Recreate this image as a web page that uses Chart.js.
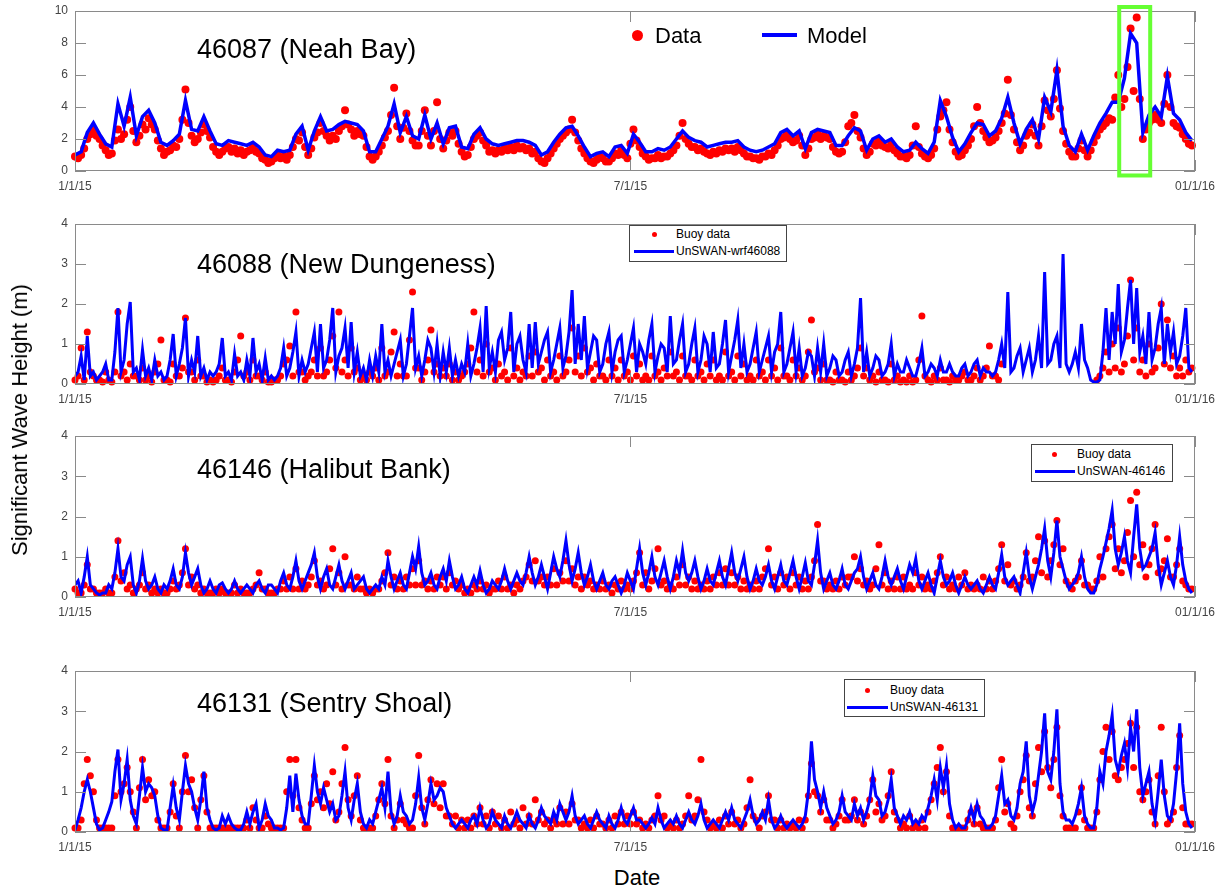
<!DOCTYPE html>
<html>
<head>
<meta charset="utf-8">
<script src="https://cdn.jsdelivr.net/npm/chart.js@4.4.1/dist/chart.umd.min.js"></script>
<style>
  html, body { margin: 0; padding: 0; background: #fff; }
  #page { position: relative; width: 1227px; height: 894px; overflow: hidden; font-family: "Liberation Sans", Arial, sans-serif; }
  .panel { position: absolute; left: 0; }
  .title { position: absolute; left: 197px; font-size: 27px; line-height: 27px; color: #000; white-space: nowrap; }
  .lbl { position: absolute; white-space: nowrap; color: #000; }
  .dot { position: absolute; border-radius: 50%; background: #ff0000; }
  .seg { position: absolute; background: #0000ff; }
  .box { position: absolute; border: 1px solid #444; background: #fff; }
</style>
</head>
<body>
<div id="page">
  <div class="panel" style="top:-19px"><canvas id="c1" width="1227" height="220"></canvas></div>
  <div class="panel" style="top:194px"><canvas id="c2" width="1227" height="220"></canvas></div>
  <div class="panel" style="top:406px"><canvas id="c3" width="1227" height="221"></canvas></div>
  <div class="panel" style="top:641px"><canvas id="c4" width="1227" height="221"></canvas></div>

  <!-- titres des panneaux -->
  <div class="title" style="top:36px">46087 (Neah Bay)</div>
  <div class="title" style="top:251px">46088 (New Dungeness)</div>
  <div class="title" style="top:456px">46146 (Halibut Bank)</div>
  <div class="title" style="top:690px">46131 (Sentry Shoal)</div>

  <!-- légende panneau 1 -->
  <div class="dot" style="left:632px;top:30px;width:11px;height:11px"></div>
  <div class="lbl" style="left:655px;top:25px;font-size:22px;line-height:22px">Data</div>
  <div class="seg" style="left:762px;top:33px;width:35px;height:4px"></div>
  <div class="lbl" style="left:807px;top:25px;font-size:22px;line-height:22px">Model</div>

  <!-- légende panneau 2 -->
  <div class="box" style="left:629px;top:225px;width:156px;height:35px"></div>
  <div class="dot" style="left:652px;top:232px;width:5px;height:5px"></div>
  <div class="lbl" style="left:676px;top:228px;font-size:12px;line-height:12px">Buoy data</div>
  <div class="seg" style="left:634px;top:250px;width:40px;height:3px"></div>
  <div class="lbl" style="left:676px;top:245px;font-size:12px;line-height:12px">UnSWAN-wrf46088</div>

  <!-- légende panneau 3 -->
  <div class="box" style="left:1031px;top:444px;width:140px;height:36px"></div>
  <div class="dot" style="left:1052px;top:452px;width:5px;height:5px"></div>
  <div class="lbl" style="left:1077px;top:448px;font-size:12px;line-height:12px">Buoy data</div>
  <div class="seg" style="left:1035px;top:470px;width:40px;height:3px"></div>
  <div class="lbl" style="left:1077px;top:465px;font-size:12px;line-height:12px">UnSWAN-46146</div>

  <!-- légende panneau 4 -->
  <div class="box" style="left:844px;top:679px;width:139px;height:36px"></div>
  <div class="dot" style="left:865px;top:688px;width:5px;height:5px"></div>
  <div class="lbl" style="left:890px;top:684px;font-size:12px;line-height:12px">Buoy data</div>
  <div class="seg" style="left:847px;top:706px;width:41px;height:3px"></div>
  <div class="lbl" style="left:890px;top:701px;font-size:12px;line-height:12px">UnSWAN-46131</div>

  <!-- titres des axes -->
  <div class="lbl" style="left:20px;top:420px;font-size:22px;transform:translate(-50%,-50%) rotate(-90deg)">Significant Wave Height (m)</div>
  <div class="lbl" style="left:637px;top:878px;font-size:22px;transform:translate(-50%,-50%)">Date</div>
</div>

<script>
// =========================================================================
// DONNÉES (jour 0 = 1/1/15 ; valeurs journalières, sauf neahModel tous les 2 jours)
// =========================================================================

const DAILY = 1;
const EVERY_2_DAYS = 2;

// axe des dates
const xTickDays = [0, 181, 365];
const xTickLabels = ['1/1/15', '7/1/15', '01/1/16'];

// 46087 (Neah Bay) — modèle, un point tous les 2 jours
const neahModel = [
  1.0, 1.2, 2.4, 3.0, 2.3, 1.7, 1.5, 4.2, 2.8, 4.6,
  2.2, 3.4, 3.8, 3.0, 1.8, 1.6, 1.9, 2.3, 4.4, 2.6,
  2.5, 3.4, 2.5, 1.7, 1.6, 1.9, 1.8, 1.7, 1.6, 1.8,
  1.5, 1.0, 0.9, 1.3, 1.2, 1.3, 2.3, 2.8, 1.3, 2.5,
  3.4, 2.5, 2.6, 2.9, 3.1, 3.0, 2.9, 2.5, 1.2, 1.2,
  2.0, 2.8, 4.2, 2.4, 3.4, 2.2, 2.0, 3.5, 2.0, 3.0,
  1.7, 2.7, 2.8, 1.5, 1.4, 2.3, 2.7, 2.0, 1.7, 1.6,
  1.7, 1.8, 1.9, 1.9, 1.8, 1.6, 1.0, 1.2, 1.8, 2.3,
  2.7, 2.8, 2.2, 1.5, 0.9, 1.1, 1.2, 0.9, 1.5, 1.6,
  1.1, 2.3, 1.8, 1.2, 1.2, 1.4, 1.3, 1.5, 2.0, 2.5,
  2.1, 1.9, 1.8, 1.5, 1.6, 1.7, 1.8, 1.8, 1.9, 1.5,
  1.3, 1.2, 1.3, 1.5, 1.7, 2.4, 2.6, 2.2, 2.5, 1.4,
  2.4, 2.6, 2.5, 2.4, 1.6, 1.6, 2.2, 2.7, 2.5, 1.3,
  2.0, 2.2, 1.8, 2.0, 1.5, 1.2, 1.3, 1.8, 1.4, 1.1,
  1.8, 4.4, 3.4, 2.1, 1.2, 1.7, 2.4, 3.0, 2.9, 2.2,
  2.5, 3.3, 4.6, 3.0, 1.7, 2.6, 3.2, 2.0, 4.6, 3.7,
  6.3, 2.8, 1.6, 1.2, 2.3, 1.3, 2.2, 3.0, 3.6, 4.3,
  4.3, 5.8, 8.6, 8.0, 2.4, 3.5, 4.0, 3.4, 5.9, 3.6,
  3.2, 2.4, 1.9
];
// 46087 — bouée, journalier
const neahData = [
  0.9, 0.8, 1.0, 1.4, 2.0, 2.3, 2.6, 2.2, 2.0, 1.6, 1.3, 1.0, 1.1, 1.9, 2.6, 2.0, 2.3, 3.2, 4.0, 2.5,
  1.8, 2.2, 2.9, 2.6, 3.3, 2.9, 2.6, 1.9, 1.4, 1.0, 1.2, 1.3, 1.6, 1.5, 2.0, 3.2, 5.1, 3.0, 2.2, 1.8,
  2.0, 2.4, 2.9, 2.5, 2.1, 1.5, 1.2, 1.0, 1.2, 1.4, 1.5, 1.2, 1.4, 1.1, 1.3, 1.0, 1.2, 1.3, 1.5, 1.2,
  1.1, 0.8, 0.7, 0.5, 0.6, 0.8, 1.0, 0.8, 0.9, 0.7, 1.0, 1.5, 2.0, 1.9, 2.4, 1.5, 1.0, 1.4, 2.1, 2.4,
  3.0, 2.5, 2.2, 1.9, 2.2, 2.0, 2.5, 2.8, 3.8, 2.9, 2.6, 2.2, 2.5, 2.3, 2.2, 1.5, 0.9, 0.7, 0.9, 1.2,
  1.6, 2.1, 2.5, 3.5, 5.2, 2.8, 2.0, 2.7, 3.6, 2.5, 1.9, 1.6, 1.6, 2.5, 3.8, 2.2, 1.6, 2.5, 4.3, 2.0,
  1.4, 1.9, 2.4, 2.2, 2.5, 1.7, 1.2, 0.9, 1.0, 1.5, 2.0, 2.2, 2.4, 1.9, 1.6, 1.2, 1.3, 1.1, 1.3, 1.2,
  1.4, 1.3, 1.5, 1.3, 1.6, 1.4, 1.5, 1.3, 1.4, 1.1, 1.2, 0.8, 0.6, 0.5, 0.8, 1.1, 1.4, 1.7, 2.0, 2.2,
  2.4, 2.6, 3.2, 2.4, 1.9, 1.4, 1.1, 0.8, 0.6, 0.5, 0.7, 0.9, 0.8, 0.6, 0.6, 0.8, 1.1, 1.0, 1.3, 1.0,
  0.8, 1.7, 2.6, 1.9, 1.5, 1.1, 0.9, 0.7, 0.8, 0.8, 1.0, 0.8, 0.9, 0.9, 1.1, 1.3, 1.6, 2.2, 3.0, 2.0,
  1.7, 1.5, 1.5, 1.3, 1.4, 1.2, 1.1, 1.0, 1.2, 1.1, 1.3, 1.2, 1.4, 1.3, 1.4, 1.2, 1.5, 1.3, 1.1, 0.9,
  0.9, 0.8, 0.8, 0.7, 0.9, 0.9, 1.1, 1.0, 1.3, 1.6, 2.0, 2.1, 2.3, 2.0, 1.8, 1.9, 2.2, 1.6, 1.0, 1.4,
  2.0, 2.1, 2.3, 2.0, 2.2, 2.1, 2.0, 1.5, 1.2, 1.1, 1.2, 1.8, 2.8, 3.0, 3.5, 2.5, 2.1, 1.4, 1.0, 1.2,
  1.7, 1.6, 1.9, 1.6, 1.5, 1.4, 1.7, 1.3, 1.1, 0.9, 0.9, 0.8, 1.0, 1.6, 2.8, 1.5, 1.1, 0.9, 0.8, 1.0,
  1.4, 2.6, 3.4, 3.8, 4.3, 2.6, 1.8, 1.2, 0.9, 1.0, 1.3, 1.6, 2.0, 2.8, 4.0, 3.0, 2.5, 2.1, 1.8, 1.9,
  2.1, 2.5, 3.0, 3.6, 5.7, 3.5, 2.6, 1.8, 1.3, 1.6, 2.2, 2.4, 2.9, 2.2, 1.6, 2.8, 4.4, 3.8, 3.4, 4.5,
  6.3, 3.9, 2.5, 1.7, 1.2, 0.9, 0.9, 1.4, 1.9, 1.3, 0.9, 1.3, 1.8, 2.2, 2.6, 2.8, 3.0, 3.3, 3.2, 4.6,
  6.0, 4.0, 4.5, 6.5, 8.9, 5.0, 9.6, 4.5, 2.0, 2.6, 3.0, 3.2, 3.5, 3.2, 3.0, 4.2, 6.0, 4.0, 3.0, 2.8,
  2.7, 2.3, 2.0, 1.7, 1.6
];

// 46088 (New Dungeness)
const dungModel = [
  0.2, 0.3, 0.7, 0.1, 1.2, 0.2, 0.3, 0.1, 0.2, 0.3, 0.5, 0.1, 0.1, 0.8, 1.9, 0.3, 0.6, 1.5, 2.05, 0.3,
  0.4, 0.1, 0.85, 0.2, 0.4, 0.1, 0.6, 0.2, 0.3, 0.1, 0.2, 0.6, 1.25, 0.2, 0.5, 0.9, 1.65, 0.2, 0.6, 0.3,
  1.2, 0.2, 0.4, 0.1, 0.3, 0.2, 0.3, 0.5, 1.15, 0.2, 0.3, 0.1, 0.75, 0.2, 0.3, 0.1, 0.6, 0.2, 1.15, 0.3,
  0.5, 0.1, 0.65, 0.1, 0.2, 0.1, 0.2, 0.4, 0.9, 0.2, 0.4, 0.8, 1.3, 0.2, 0.6, 0.3, 0.5, 0.9, 1.3, 0.3,
  1.5, 0.4, 0.6, 1.1, 1.9, 0.3, 0.7, 0.9, 1.4, 0.4, 1.55, 0.3, 0.8, 0.2, 0.4, 0.1, 0.6, 0.2, 0.7, 0.3,
  1.5, 0.3, 0.6, 0.2, 0.5, 0.8, 1.1, 0.2, 0.5, 1.2, 1.9, 0.4, 0.7, 0.2, 0.6, 1.1, 0.9, 0.3, 1.0, 0.2,
  0.8, 0.3, 0.9, 0.2, 0.6, 0.2, 0.5, 0.3, 1.0, 0.2, 0.5, 0.9, 1.4, 0.3, 1.95, 0.4, 0.8, 0.3, 1.1, 1.3,
  0.6, 0.9, 1.8, 0.3, 1.0, 1.2, 0.6, 0.3, 1.5, 0.4, 1.55, 0.5, 0.8, 1.1, 1.3, 0.3, 0.6, 1.0, 1.4, 0.4,
  0.7, 1.3, 2.35, 0.5, 1.5, 0.6, 1.7, 0.4, 0.8, 1.2, 1.1, 0.3, 0.5, 1.0, 1.3, 0.3, 0.8, 1.1, 1.2, 0.3,
  0.6, 1.0, 1.4, 0.3, 1.0, 0.8, 0.5, 1.1, 1.5, 0.3, 0.7, 1.0, 0.9, 0.3, 1.7, 0.5, 0.6, 1.1, 1.5, 0.3,
  0.5, 1.0, 1.4, 0.3, 0.6, 1.2, 1.0, 0.3, 1.3, 0.4, 0.5, 1.0, 1.6, 0.3, 0.7, 1.1, 1.6, 0.4, 1.0, 0.3,
  0.5, 0.9, 1.3, 0.3, 0.6, 0.9, 1.2, 0.3, 0.8, 1.0, 1.8, 0.3, 0.5, 0.9, 1.3, 0.3, 0.9, 0.2, 0.4, 0.8,
  0.7, 0.2, 0.9, 0.3, 1.0, 0.2, 0.4, 0.7, 0.6, 0.2, 0.3, 0.6, 0.8, 0.2, 0.5, 0.9, 2.15, 0.3, 0.8, 0.2,
  0.4, 0.7, 0.6, 0.2, 0.3, 0.5, 1.0, 0.2, 0.5, 0.3, 0.3, 0.6, 0.4, 0.2, 0.2, 0.5, 0.9, 0.2, 0.3, 0.5,
  0.4, 0.2, 0.6, 0.3, 0.3, 0.5, 0.3, 0.2, 0.2, 0.4, 0.5, 0.2, 0.3, 0.5, 0.6, 0.2, 0.4, 0.3, 0.3, 0.2,
  0.3, 0.6, 1.0, 0.4, 2.3, 0.3, 0.4, 0.7, 0.9, 0.3, 0.6, 0.9, 0.3, 0.6, 1.2, 0.4, 2.8, 0.5, 0.6, 1.0,
  1.2, 0.4, 3.25, 0.5, 0.3, 0.5, 0.8, 0.4, 1.5, 0.6, 0.4, 0.1, 0.05, 0.05, 0.1, 0.8, 1.9, 0.6, 1.8, 1.0,
  2.5, 0.8, 1.1, 1.9, 2.6, 1.0, 2.4, 0.8, 1.2, 0.5, 1.8, 0.6, 0.9, 1.5, 1.9, 0.5, 1.5, 0.8, 1.3, 0.5,
  0.7, 1.2, 1.9, 0.4, 0.3
];
const dungData = [
  0.1, 0.2, 0.9, 0.1, 1.3, 0.3, 0.2, 0.1, 0.1, 0.05, 0.3, 0.1, 0.05, 0.3, 1.8, 0.2, 0.3, 0.1, 0.5, 0.2,
  0.2, 0.1, 0.4, 0.1, 0.2, 0.05, 0.3, 0.5, 1.1, 0.1, 0.1, 0.05, 0.5, 0.2, 0.2, 0.4, 1.65, 0.3, 0.3, 0.1,
  0.6, 0.2, 0.2, 0.05, 0.1, 0.05, 0.1, 0.2, 0.4, 0.1, 0.1, 0.05, 0.3, 0.6, 1.2, 0.2, 0.3, 0.1, 0.6, 0.2,
  0.2, 0.1, 0.3, 0.05, 0.05, 0.1, 0.1, 0.2, 0.5, 0.6, 0.95, 0.2, 1.8, 0.3, 0.3, 0.1, 0.2, 0.3, 0.6, 0.2,
  0.9, 0.2, 0.3, 0.6, 1.2, 0.4, 1.8, 0.3, 0.6, 0.2, 0.9, 0.3, 0.4, 0.1, 0.2, 0.1, 0.3, 0.2, 0.4, 0.1,
  0.9, 0.2, 0.3, 0.8, 1.3, 0.2, 0.5, 0.2, 0.2, 1.1, 2.3, 0.4, 0.4, 0.1, 0.3, 0.6, 1.35, 0.3, 0.5, 0.2,
  0.4, 0.2, 0.5, 0.1, 0.3, 0.1, 0.2, 0.3, 0.5, 0.9, 1.8, 0.3, 0.6, 0.2, 1.0, 0.3, 0.4, 0.1, 0.5, 0.2,
  0.3, 0.1, 0.9, 0.2, 0.4, 0.1, 0.3, 0.2, 0.7, 0.2, 0.8, 0.3, 0.4, 0.1, 0.6, 0.2, 0.3, 0.1, 0.7, 0.2,
  0.3, 0.6, 1.4, 0.3, 0.7, 0.2, 0.9, 0.3, 0.4, 0.1, 0.5, 0.2, 0.2, 0.1, 0.6, 0.2, 0.4, 0.1, 0.6, 0.2,
  0.3, 0.1, 0.7, 0.2, 0.5, 0.1, 0.2, 0.1, 0.7, 0.2, 0.3, 0.1, 0.4, 0.2, 0.8, 0.2, 0.3, 0.1, 0.7, 0.2,
  0.2, 0.1, 0.6, 0.2, 0.3, 0.1, 0.5, 0.2, 0.6, 0.1, 0.2, 0.1, 0.8, 0.2, 0.3, 0.1, 0.7, 0.2, 0.5, 0.1,
  0.2, 0.1, 0.6, 0.2, 0.3, 0.1, 0.6, 0.2, 0.4, 0.1, 0.9, 0.2, 0.2, 0.1, 0.6, 0.2, 0.4, 0.1, 0.2, 0.8,
  1.6, 0.3, 0.4, 0.1, 0.5, 0.1, 0.1, 0.05, 0.3, 0.1, 0.1, 0.05, 0.3, 0.1, 0.2, 0.4, 0.9, 0.2, 0.4, 0.1,
  0.2, 0.05, 0.3, 0.1, 0.1, 0.05, 0.5, 0.1, 0.2, 0.05, 0.1, 0.05, 0.2, 0.05, 0.1, 0.6, 1.7, 0.2, 0.1, 0.05,
  0.2, 0.1, 0.4, 0.1, 0.1, 0.05, 0.2, 0.1, 0.1, 0.2, 0.3, 0.1, 0.1, 0.2, 0.4, 0.1, 0.2, 0.4, 0.95, 0.2,
  0.2, 0.1, 0.5, null, null, null, null, null, null, null, null, null, null, null, null, null, null, null, null, null,
  null, null, null, null, null, null, null, null, null, null, null, null, null, 0.1, 0.2, 0.4, 0.8, 0.3, 1.0, 0.4,
  1.4, 0.3, 0.5, 1.2, 2.6, 0.6, 1.4, 0.3, 0.6, 0.2, 1.0, 0.3, 0.4, 0.9, 2.0, 0.5, 1.6, 0.4, 0.7, 0.2,
  0.4, 0.2, 0.6, 0.3, 0.4
];

// 46146 (Halibut Bank)
const halibutModel = [
  0.3, 0.4, 0.1, 0.5, 1.0, 0.3, 0.2, 0.1, 0.05, 0.1, 0.1, 0.3, 0.2, 0.6, 1.2, 0.5, 0.4, 0.8, 1.0, 0.3,
  0.1, 0.4, 0.95, 0.4, 0.2, 0.3, 0.5, 0.2, 0.1, 0.3, 0.2, 0.4, 0.7, 0.3, 0.2, 0.5, 1.1, 0.6, 0.3, 0.5,
  0.7, 0.3, 0.1, 0.2, 0.4, 0.2, 0.1, 0.3, 0.35, 0.2, 0.1, 0.2, 0.4, 0.2, 0.1, 0.2, 0.3, 0.2, 0.1, 0.3,
  0.4, 0.2, 0.1, 0.3, 0.3, 0.2, 0.1, 0.4, 0.6, 0.3, 0.2, 0.5, 0.9, 0.4, 0.2, 0.4, 0.6, 0.8, 1.1, 0.5,
  0.2, 0.5, 0.7, 0.3, 0.2, 0.5, 0.8, 0.4, 0.2, 0.4, 0.6, 0.2, 0.3, 0.4, 0.5, 0.2, 0.1, 0.2, 0.3, 0.2,
  0.5, 0.3, 0.9, 0.5, 0.2, 0.4, 0.6, 0.3, 0.2, 0.6, 1.0, 0.7, 1.25, 0.6, 0.3, 0.4, 0.6, 0.3, 0.2, 0.5,
  0.7, 0.4, 0.9, 0.5, 0.2, 0.3, 0.5, 0.2, 0.1, 0.3, 0.5, 0.3, 0.65, 0.3, 0.1, 0.2, 0.4, 0.3, 0.2, 0.4,
  0.7, 0.4, 0.2, 0.4, 0.6, 0.4, 0.3, 0.6, 1.0, 0.6, 0.3, 0.5, 0.8, 0.5, 0.2, 0.6, 1.0, 0.7, 0.5, 0.9,
  1.4, 0.8, 0.4, 0.7, 1.1, 0.6, 0.3, 0.5, 0.8, 0.4, 0.2, 0.4, 0.6, 0.3, 0.2, 0.4, 0.5, 0.3, 0.1, 0.3,
  0.6, 0.4, 0.2, 0.7, 1.2, 0.6, 0.3, 0.6, 1.0, 0.5, 0.3, 0.6, 0.9, 0.5, 0.2, 0.5, 0.9, 0.6, 1.15, 0.6,
  0.4, 0.6, 0.9, 0.5, 0.2, 0.4, 0.7, 0.4, 0.3, 0.6, 0.9, 0.5, 0.3, 0.7, 1.1, 0.6, 0.4, 0.7, 1.0, 0.5,
  0.2, 0.4, 0.7, 0.4, 0.3, 0.5, 0.8, 0.4, 0.2, 0.5, 0.8, 0.4, 0.3, 0.6, 0.9, 0.5, 0.2, 0.5, 0.85, 0.4,
  0.3, 0.8, 1.4, 0.6, 0.2, 0.4, 0.6, 0.3, 0.2, 0.4, 0.7, 0.3, 0.2, 0.4, 0.6, 0.7, 1.0, 0.5, 0.2, 0.4,
  0.6, 0.3, 0.2, 0.5, 0.9, 0.5, 0.3, 0.5, 0.7, 0.4, 0.2, 0.5, 0.8, 0.6, 0.95, 0.4, 0.2, 0.4, 0.6, 0.3,
  0.1, 0.5, 0.9, 0.5, 0.3, 0.4, 0.6, 0.3, 0.1, 0.3, 0.5, 0.3, 0.2, 0.3, 0.4, 0.2, 0.1, 0.3, 0.5, 0.3,
  0.2, 0.6, 1.05, 0.5, 0.3, 0.4, 0.5, 0.3, 0.1, 0.6, 1.1, 0.5, 0.2, 0.5, 0.8, 1.2, 1.7, 0.9, 0.5, 1.1,
  1.9, 1.0, 0.7, 0.4, 0.2, 0.3, 0.4, 0.6, 1.0, 0.5, 0.2, 0.1, 0.1, 0.3, 0.7, 1.0, 1.35, 1.7, 2.15, 1.2,
  0.8, 1.1, 1.5, 0.9, 0.6, 1.5, 2.3, 1.2, 0.7, 0.8, 1.0, 1.2, 1.6, 0.8, 0.3, 0.6, 0.9, 0.5, 0.3, 0.8,
  1.5, 0.8, 0.4, 0.2, 0.1
];
const halibutData = [
  0.2, 0.1, 0.1, 0.3, 0.8, 0.2, 0.2, 0.1, 0.1, 0.1, 0.2, 0.1, 0.1, 0.5, 1.4, 0.4, 0.6, 0.2, 0.3, 0.1,
  0.2, 0.3, 0.6, 0.2, 0.3, 0.1, 0.2, 0.1, 0.2, 0.1, 0.1, 0.2, 0.4, 0.2, 0.3, 0.6, 1.2, 0.3, 0.5, 0.2,
  0.3, 0.1, 0.2, 0.1, 0.1, 0.1, 0.2, 0.1, 0.2, 0.1, 0.1, 0.1, 0.3, 0.1, 0.2, 0.1, 0.1, 0.1, 0.2, 0.3,
  0.6, 0.2, 0.2, 0.1, 0.1, 0.1, 0.2, 0.2, 0.4, 0.2, 0.5, 0.2, 0.7, 0.2, 0.4, 0.2, 0.3, 0.5, 0.9, 0.3,
  0.4, 0.2, 0.3, 0.7, 1.2, 0.3, 0.6, 0.2, 1.0, 0.3, 0.3, 0.2, 0.5, 0.2, 0.2, 0.1, 0.2, 0.1, 0.2, 0.2,
  0.4, 0.6, 1.1, 0.3, 0.5, 0.2, 0.4, 0.2, 0.5, 0.3, 0.7, 0.3, 0.9, 0.3, 0.4, 0.2, 0.4, 0.2, 0.5, 0.3,
  0.5, 0.2, 0.6, 0.3, 0.4, 0.2, 0.3, 0.1, 0.2, 0.1, 0.3, 0.2, 0.4, 0.2, 0.3, 0.1, 0.2, 0.2, 0.4, 0.2,
  0.5, 0.2, 0.3, 0.1, 0.3, 0.2, 0.4, 0.5, 0.8, 0.4, 0.9, 0.4, 0.5, 0.3, 0.5, 0.3, 0.7, 0.3, 0.6, 0.4,
  0.9, 0.4, 0.7, 0.3, 0.5, 0.2, 0.5, 0.3, 0.4, 0.2, 0.3, 0.2, 0.4, 0.2, 0.3, 0.1, 0.3, 0.2, 0.4, 0.2,
  0.3, 0.2, 0.4, 0.6, 1.1, 0.3, 0.6, 0.2, 0.4, 0.7, 1.2, 0.3, 0.4, 0.2, 0.3, 0.2, 0.5, 0.3, 0.8, 0.3,
  0.5, 0.2, 0.4, 0.2, 0.3, 0.2, 0.4, 0.2, 0.5, 0.3, 0.6, 0.3, 0.7, 0.3, 0.6, 0.3, 0.5, 0.2, 0.4, 0.2,
  0.3, 0.2, 0.4, 0.2, 0.5, 0.7, 1.2, 0.3, 0.5, 0.2, 0.6, 0.3, 0.5, 0.2, 0.6, 0.3, 0.5, 0.2, 0.4, 0.2,
  0.5, 0.9, 1.8, 0.4, 0.4, 0.2, 0.3, 0.2, 0.4, 0.2, 0.5, 0.3, 0.5, 0.5, 1.0, 0.4, 0.7, 0.3, 0.4, 0.2,
  0.3, 0.7, 1.3, 0.3, 0.6, 0.2, 0.4, 0.2, 0.5, 0.2, 0.5, 0.2, 0.3, 0.2, 0.6, 0.3, 0.5, 0.2, 0.3, 0.2,
  0.4, 0.6, 1.0, 0.3, 0.5, 0.2, 0.3, 0.2, 0.5, 0.3, 0.6, 0.2, 0.3, 0.2, 0.3, 0.2, 0.5, 0.2, 0.4, 0.2,
  0.4, 0.7, 1.3, 0.4, 0.8, 0.3, 0.4, 0.2, 0.3, 0.5, 1.1, 0.4, 0.5, 0.9, 1.5, 0.6, 1.4, 0.5, 0.9, 1.3,
  1.9, 0.8, 1.2, 0.4, 0.3, 0.2, 0.4, 0.5, 0.9, 0.3, 0.3, 0.2, 0.2, 0.4, 1.0, 0.5, 1.2, 1.5, 1.8, 0.7,
  1.2, 0.6, 0.9, 1.6, 2.4, 1.0, 2.6, 0.8, 1.3, 0.5, 0.8, 1.2, 1.8, 0.6, 0.7, 0.9, 1.45, 0.5, 0.5, 0.8,
  1.2, 0.4, 0.3, 0.2, 0.2
];

// 46131 (Sentry Shoal)
const sentryModel = [
  0.05, 0.3, 0.6, 1.0, 1.3, 1.0, 0.6, 0.2, 0.05, 0.1, 0.3, 0.5, 0.75, 1.5, 2.05, 0.8, 1.2, 1.8, 0.8, 0.4,
  0.2, 0.9, 1.6, 1.0, 1.2, 1.1, 0.9, 0.4, 0.1, 0.05, 0.05, 0.6, 1.15, 0.6, 0.3, 1.0, 1.65, 1.2, 1.0, 0.6,
  0.3, 0.8, 1.5, 0.6, 0.3, 0.1, 0.05, 0.1, 0.4, 0.2, 0.4, 0.2, 0.1, 0.05, 0.05, 0.2, 0.5, 0.2, 0.5, 0.7,
  0.1, 0.3, 0.7, 0.4, 0.3, 0.1, 0.1, 0.05, 0.1, 0.6, 1.4, 0.5, 1.45, 0.8, 0.4, 0.2, 0.2, 0.9, 1.65, 1.0,
  0.7, 1.1, 0.8, 0.5, 0.7, 0.3, 0.4, 0.9, 1.5, 0.6, 0.3, 0.8, 1.2, 0.5, 0.2, 0.1, 0.3, 0.2, 0.5, 0.8,
  1.1, 0.6, 1.5, 0.5, 0.2, 0.4, 0.9, 0.5, 0.4, 0.2, 0.3, 0.7, 1.35, 0.6, 0.3, 0.7, 1.2, 0.8, 0.9, 1.1,
  1.0, 0.6, 0.4, 0.2, 0.1, 0.2, 0.3, 0.2, 0.1, 0.3, 0.4, 0.2, 0.6, 0.3, 0.1, 0.2, 0.5, 0.3, 0.2, 0.1,
  0.4, 0.2, 0.1, 0.3, 0.5, 0.3, 0.2, 0.1, 0.4, 0.2, 0.1, 0.3, 0.6, 0.4, 0.3, 0.2, 0.5, 0.3, 0.7, 0.5,
  0.3, 0.5, 0.9, 0.4, 0.2, 0.3, 0.4, 0.2, 0.1, 0.3, 0.5, 0.3, 0.2, 0.1, 0.4, 0.2, 0.1, 0.3, 0.6, 0.3,
  0.2, 0.4, 0.6, 0.3, 0.3, 0.2, 0.1, 0.2, 0.35, 0.2, 0.6, 0.3, 0.1, 0.2, 0.3, 0.2, 0.4, 0.2, 0.1, 0.3,
  0.5, 0.3, 0.2, 0.4, 0.7, 0.3, 0.1, 0.2, 0.3, 0.2, 0.1, 0.3, 0.5, 0.3, 0.6, 0.3, 0.2, 0.1, 0.3, 0.5,
  0.8, 0.4, 0.2, 0.3, 0.5, 0.3, 0.8, 0.3, 0.1, 0.2, 0.4, 0.2, 0.1, 0.2, 0.3, 0.2, 0.1, 0.2, 0.4, 1.0,
  2.25, 1.3, 1.0, 0.6, 1.0, 0.6, 0.4, 0.2, 0.3, 0.5, 0.9, 0.5, 0.4, 0.3, 0.7, 0.4, 0.6, 0.3, 0.5, 0.8,
  1.4, 0.9, 0.8, 0.4, 0.5, 0.8, 1.3, 0.6, 0.4, 0.2, 0.4, 0.3, 0.5, 0.2, 0.3, 0.2, 0.4, 0.3, 0.6, 0.9,
  1.3, 0.8, 1.6, 1.1, 1.65, 0.7, 0.3, 0.1, 0.2, 0.1, 0.1, 0.3, 0.6, 0.3, 0.7, 0.4, 0.3, 0.1, 0.1, 0.2,
  0.4, 0.9, 1.4, 0.7, 0.8, 0.4, 0.3, 0.6, 1.2, 1.5, 2.25, 0.9, 0.5, 0.8, 1.4, 2.0, 2.95, 1.5, 1.3, 2.0,
  3.05, 1.2, 0.5, 0.3, 0.3, 0.2, 0.4, 0.7, 1.1, 0.4, 0.2, 0.1, 0.1, 0.6, 1.5, 1.2, 2.0, 2.4, 2.9, 1.8,
  1.5, 1.9, 2.2, 1.6, 2.6, 2.0, 3.05, 1.6, 0.9, 1.2, 1.5, 0.7, 0.3, 1.0, 1.8, 0.9, 0.4, 0.3, 0.7, 1.5,
  2.7, 1.2, 0.5, 0.2, 0.1
];
const sentryData = [
  0.1, 0.1, 0.3, 1.2, 1.8, 1.4, 1.0, 0.3, 0.1, 0.1, 0.1, 0.1, 0.1, 0.9, 1.8, 1.0, 1.2, 1.6, 1.0, 0.5,
  0.1, 1.1, 1.8, 0.8, 1.3, 0.9, 1.0, 0.3, 0.1, 0.1, 0.1, 0.5, 1.2, 0.4, 0.1, 1.0, 1.9, 1.0, 1.3, 0.6,
  0.1, 0.8, 1.4, 0.5, 0.1, 0.1, 0.1, 0.1, 0.1, 0.1, 0.1, 0.1, 0.1, 0.1, 0.1, 0.1, 0.3, 0.1, 0.6, 0.3,
  0.1, 0.1, 0.4, 0.2, 0.1, 0.1, 0.1, 0.1, 0.1, 1.0, 1.8, 0.9, 1.8, 0.6, 0.3, 0.1, 0.1, 0.7, 1.4, 0.8,
  1.0, 0.6, 1.2, 0.7, 1.5, 0.3, 0.5, 1.2, 2.1, 0.8, 0.4, 0.9, 1.4, 0.3, 0.1, 0.1, 0.1, 0.1, 0.4, 0.8,
  1.2, 0.7, 1.8, 0.4, 0.1, 0.3, 0.7, 0.3, 0.2, 0.1, 0.1, 0.9, 1.9, 0.6, 0.2, 0.8, 1.3, 0.7, 1.2, 0.6,
  1.2, 0.4, 0.4, 0.2, 0.4, 0.1, 0.3, 0.1, 0.3, 0.1, 0.4, 0.2, 0.6, 0.2, 0.4, 0.1, 0.5, 0.2, 0.4, 0.1,
  0.3, 0.1, 0.5, 0.2, 0.3, 0.1, 0.6, 0.2, 0.4, 0.2, 0.8, 0.3, 0.5, 0.2, 0.3, 0.1, 0.3, 0.2, 0.6, 0.2,
  0.5, 0.2, 0.7, 0.3, 0.3, 0.1, 0.2, 0.1, 0.3, 0.1, 0.4, 0.2, 0.2, 0.1, 0.3, 0.1, 0.4, 0.2, 0.5, 0.2,
  0.4, 0.2, 0.5, 0.2, 0.3, 0.1, 0.2, 0.1, 0.3, 0.4, 0.9, 0.3, 0.4, 0.1, 0.2, 0.1, 0.3, 0.1, 0.2, 0.4,
  0.9, 0.3, 0.4, 0.8, 1.8, 0.5, 0.3, 0.1, 0.2, 0.1, 0.3, 0.1, 0.4, 0.2, 0.5, 0.2, 0.3, 0.1, 0.2, 0.6,
  1.3, 0.4, 0.3, 0.1, 0.4, 0.5, 0.9, 0.3, 0.3, 0.1, 0.3, 0.1, 0.2, 0.1, 0.2, 0.1, 0.3, 0.1, 0.3, 0.9,
  1.7, 1.0, 0.9, 0.5, 0.8, 0.3, 0.3, 0.1, 0.2, 0.4, 0.8, 0.3, 0.3, 0.4, 0.8, 0.3, 0.5, 0.2, 0.4, 0.8,
  1.3, 0.5, 0.7, 0.3, 0.4, 0.9, 1.5, 0.5, 0.3, 0.1, 0.2, 0.1, 0.4, 0.1, 0.2, 0.1, 0.3, 0.1, 0.5, 0.8,
  1.2, 1.6, 2.1, 1.0, 1.5, 0.4, 0.1, 0.1, 0.1, 0.1, 0.1, 0.3, 0.5, 0.2, 0.6, 0.2, 0.1, 0.1, 0.1, 0.1,
  0.3, 1.1, 1.8, 0.5, 0.7, 0.2, 0.1, 0.4, 1.0, 1.3, 1.9, 0.6, 0.4, 1.2, 2.1, 1.5, 2.5, 1.6, 1.1, 1.8,
  2.6, 0.9, 0.4, 0.1, 0.1, 0.1, 0.1, 0.5, 1.1, 0.3, 0.1, 0.1, 0.1, 0.5, 1.3, 2.0, 2.6, 1.8, 2.5, 1.4,
  1.3, 1.6, 1.8, 2.2, 2.7, 1.6, 2.6, 1.0, 0.8, 1.0, 1.3, 0.5, 0.2, 1.4, 2.6, 1.0, 0.2, 0.3, 0.5, 1.6,
  2.4, 0.6, 0.2, 0.2, 0.2
];

// zone surlignée en vert (tempête de décembre, panneau 46087)
const neahHighlight = { fromDay: 340.3, toDay: 350.4, low: -0.28, high: 10.25 };

// =========================================================================
// HÀM TIỆN ÍCH
// =========================================================================

const TICK_LEN = 11;
const FONT = '"Liberation Sans", Arial, sans-serif';

function toPoints(values, stepDays) {
    return values.map((v, i) => ({ x: i * stepDays, y: v }));
}

// cadre gris + graduations vers l'intérieur (style MATLAB)
const framePlugin = {
    id: 'frame',
    afterDatasetsDraw(chart) {
        const { ctx, chartArea: a, scales: { x, y } } = chart;
        ctx.save();
        ctx.strokeStyle = '#8a8a8a';
        ctx.lineWidth = 1;
        ctx.strokeRect(a.left + 0.5, a.top + 0.5, a.right - a.left - 1, a.bottom - a.top - 1);
        ctx.beginPath();
        y.ticks.forEach(t => {
            const py = Math.round(y.getPixelForValue(t.value)) + 0.5;
            ctx.moveTo(a.left, py); ctx.lineTo(a.left + TICK_LEN, py);
            ctx.moveTo(a.right, py); ctx.lineTo(a.right - TICK_LEN, py);
        });
        x.ticks.forEach(t => {
            const px = Math.round(x.getPixelForValue(t.value)) + 0.5;
            ctx.moveTo(px, a.bottom); ctx.lineTo(px, a.bottom - TICK_LEN);
            ctx.moveTo(px, a.top); ctx.lineTo(px, a.top + TICK_LEN);
        });
        ctx.stroke();
        ctx.restore();
    }
};

function makeHighlightPlugin(range) {
    return {
        id: 'highlight',
        afterDraw(chart) {
            const { ctx, scales: { x, y } } = chart;
            const x0 = x.getPixelForValue(range.fromDay);
            const x1 = x.getPixelForValue(range.toDay);
            const y0 = y.getPixelForValue(range.high);
            const y1 = y.getPixelForValue(range.low);
            ctx.save();
            ctx.strokeStyle = '#66ff33';
            ctx.lineWidth = 4;
            ctx.strokeRect(x0, y0, x1 - x0, y1 - y0);
            ctx.restore();
        }
    };
}

// =========================================================================
// HÀM RENDER
// =========================================================================

function drawPanel(canvasId, model, data, yMax, yStep, style, extraPlugins) {
    const ctx = document.getElementById(canvasId);
    return new Chart(ctx, {
        type: 'line',
        data: {
            datasets: [
                {
                    label: 'Model',
                    data: toPoints(model.values, model.step),
                    borderColor: '#0000ff',
                    borderWidth: style.lineWidth,
                    pointRadius: 0,
                    tension: 0,
                    order: 0
                },
                {
                    label: 'Data',
                    data: toPoints(data.values, data.step),
                    showLine: false,
                    pointRadius: style.dotRadius,
                    pointBorderWidth: 0,
                    pointBackgroundColor: '#ff0000',
                    clip: 5,
                    order: 1
                }
            ]
        },
        options: {
            responsive: false,
            animation: false,
            devicePixelRatio: 1,
            layout: { padding: { top: 30, right: 32, bottom: 0, left: 0 } },
            plugins: { legend: { display: false }, tooltip: { enabled: false } },
            scales: {
                x: {
                    type: 'linear',
                    min: 0,
                    max: 365,
                    grid: { display: false, drawTicks: false },
                    border: { display: false },
                    ticks: {
                        color: '#444',
                        font: { family: FONT, size: 12 },
                        padding: 8,
                        maxRotation: 0,
                        autoSkip: false,
                        callback: (value) => xTickLabels[xTickDays.indexOf(value)]
                    },
                    afterBuildTicks: (scale) => { scale.ticks = xTickDays.map(d => ({ value: d })); },
                    afterFit: (scale) => { scale.height = 30; }
                },
                y: {
                    min: 0,
                    max: yMax,
                    grid: { display: false, drawTicks: false },
                    border: { display: false },
                    ticks: {
                        stepSize: yStep,
                        color: '#444',
                        font: { family: FONT, size: 12 },
                        padding: 7
                    },
                    afterFit: (scale) => { scale.width = 75; }
                }
            }
        },
        plugins: [framePlugin].concat(extraPlugins || [])
    });
}

document.addEventListener('DOMContentLoaded', () => {
    drawPanel('c1', { values: neahModel, step: EVERY_2_DAYS }, { values: neahData, step: DAILY }, 10, 2,
        { lineWidth: 3.5, dotRadius: 4 }, [makeHighlightPlugin(neahHighlight)]);
    drawPanel('c2', { values: dungModel, step: DAILY }, { values: dungData, step: DAILY }, 4, 1,
        { lineWidth: 3, dotRadius: 3.5 });
    drawPanel('c3', { values: halibutModel, step: DAILY }, { values: halibutData, step: DAILY }, 4, 1,
        { lineWidth: 3, dotRadius: 3.5 });
    drawPanel('c4', { values: sentryModel, step: DAILY }, { values: sentryData, step: DAILY }, 4, 1,
        { lineWidth: 3, dotRadius: 3.5 });
});
</script>
</body>
</html>
